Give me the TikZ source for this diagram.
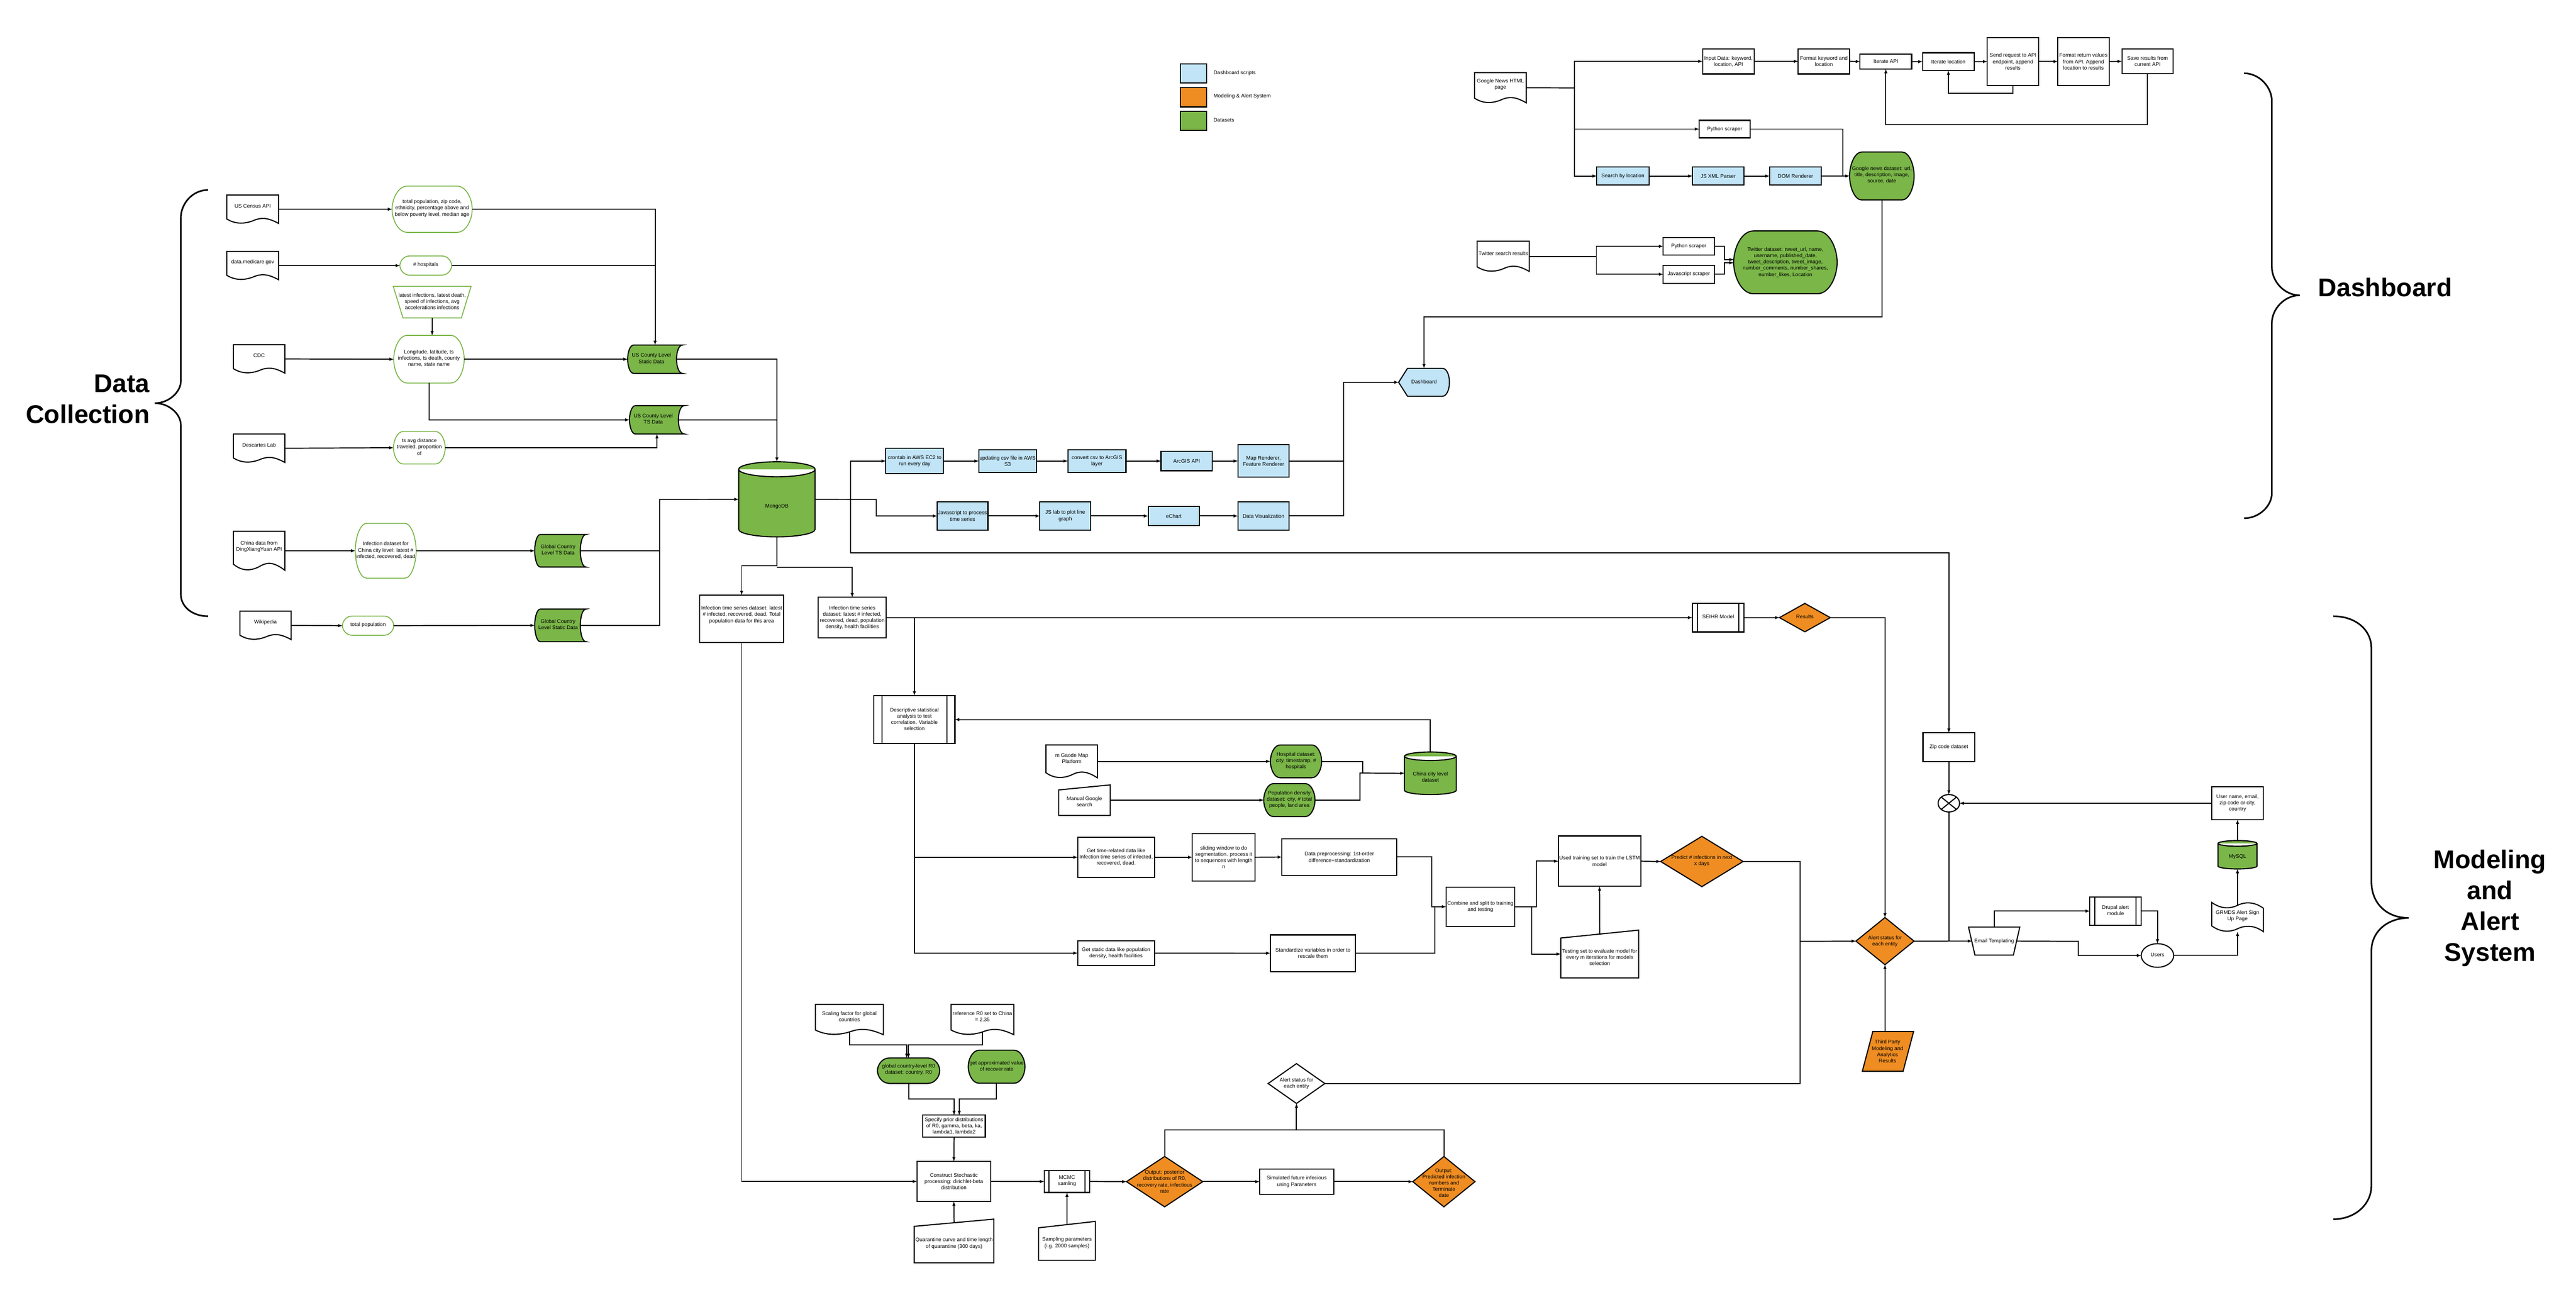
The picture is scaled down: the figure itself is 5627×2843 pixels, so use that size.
\documentclass[tikz,border=0pt]{standalone}
\usepackage{fontspec}
\setmainfont{Liberation Sans}
\begin{document}
\begin{tikzpicture}[x=1pt,y=-1pt]
		\definecolor{bleu}{HTML}{C1E4F7}
		\definecolor{vert}{HTML}{7AB648}
		\definecolor{ambre}{HTML}{EF8D22}
		
		\tikzstyle{lien}=[->,>=latex,line width=2.2pt]
		\tikzstyle{trait}=[line width=2.2pt]
		\tikzstyle{accolade}=[line width=3.5pt]
		\tikzstyle{texte}=[align=center,inner sep=0pt,outer sep=0pt,font=\fontsize{11.4}{13.7}\selectfont]
		\tikzstyle{titre}=[align=center,inner sep=0pt,outer sep=0pt,font=\fontsize{56}{67.5}\selectfont\bfseries]
		\tikzstyle{boite}=[texte,draw,fill=white,line width=2.4pt]
		\tikzstyle{script}=[boite,fill=bleu]
		\tikzstyle{contour}=[draw,fill=white,line width=2.4pt]
		\tikzstyle{donnee}=[contour,fill=vert]
		\tikzstyle{alerte}=[contour,fill=ambre]
		\tikzstyle{tableau}=[contour,fill=bleu]
		\tikzstyle{source}=[draw=vert,fill=white,line width=2pt]
		\tikzset{dim/.style 2 args={minimum width=#1pt,minimum height=#2pt}}
		
		\def\FVague{(-1,-1) -- (1,-1) -- (1,1) .. controls (.55,.55) and (.3,.58) .. (0,.82) .. controls (-.3,1.02) and (-.65,1.08) .. (-1,.69) -- cycle}
		\def\FStock{(1,-1) -- (-.78,-1) .. controls (-.93,-1) and (-1,-.4) .. (-1,0) .. controls (-1,.4) and (-.93,1) .. (-.78,1) -- (1,1) .. controls (.86,1) and (.78,.5) .. (.78,0) .. controls (.78,-.5) and (.86,-1) .. (1,-1) -- cycle}
		\def\FOvale{(-.62,-1) -- (.62,-1) .. controls (.85,-1) and (1,-.45) .. (1,0) .. controls (1,.45) and (.85,1) .. (.62,1) -- (-.62,1) .. controls (-.85,1) and (-1,.45) .. (-1,0) .. controls (-1,-.45) and (-.85,-1) .. (-.62,-1) -- cycle}
		\def\FCyl{(-1,-.8) .. controls (-1,-.91) and (-.55,-1) .. (0,-1) .. controls (.55,-1) and (1,-.91) .. (1,-.8) -- (1,.8) .. controls (1,.91) and (.55,1) .. (0,1) .. controls (-.55,1) and (-1,.91) .. (-1,.8) -- cycle (-1,-.8) .. controls (-1,-.69) and (-.55,-.6) .. (0,-.6) .. controls (.55,-.6) and (1,-.69) .. (1,-.8)}
		\def\FLosange{(0,-1) -- (1,0) -- (0,1) -- (-1,0) -- cycle}
		\def\FSous{(-1,-1) rectangle (1,1) (-.8,-1) -- (-.8,1) (.8,-1) -- (.8,1)}
		\def\FSaisie{(-1,-.67) -- (1,-1) -- (1,1) -- (-1,1) -- cycle}
		\def\FTrap{(-1,-1) -- (1,-1) -- (.75,1) -- (-.75,1) -- cycle}
		\def\FPara{(-.59,-1) -- (1,-1) -- (.59,1) -- (-1,1) -- cycle}
		\def\FRuban{(-1,-1) .. controls (-.65,-.55) and (-.3,-.55) .. (0,-.8) .. controls (.3,-1.05) and (.65,-1.05) .. (1,-.6) -- (1,1) .. controls (.65,.55) and (.3,.55) .. (0,.8) .. controls (-.3,1.05) and (-.65,1.05) .. (-1,.6) -- cycle}
		\def\FHexa{(-1,0) -- (-.65,-1) -- (.72,-1) .. controls (.9,-1) and (1,-.5) .. (1,0) .. controls (1,.5) and (.9,1) .. (.72,1) -- (-.65,1) -- cycle}
		\def\FDisque{(0,0) circle (1)}
		\def\FCroix{(0,0) circle (1) (-.707,-.707) -- (.707,.707) (-.707,.707) -- (.707,-.707)}
		
		\def\Forme#1#2#3#4#5#6#7#8#9{%
			\begin{scope}[shift={(#5,#6)},xscale=#7/2,yscale=#8/2]
				\path[#3] #2;
			\end{scope}
			\node[dim={#7}{#8},inner sep=0pt,outer sep=0pt] (#4) at (#5,#6) {};
			\node[texte,shift={(#1)}] (#4t) at (#5,#6) {#9};
		}
		
		\useasboundingbox (0,0) rectangle (5627,2843);
		
		\draw[accolade] (454.5,415) .. controls (420,415) and (395,445) .. (395,476) -- (395,833) .. controls (395,855) and (370,880.6) .. (338,880.6) .. controls (370,880.6) and (395,905) .. (395,928) -- (395,1298) .. controls (395,1325) and (420,1346) .. (454.5,1346);
		\draw[accolade] (4901.7,160) .. controls (4935,160) and (4962.6,190) .. (4962.6,221) -- (4962.6,583) .. controls (4962.6,615) and (4990,645) .. (5023.6,645) .. controls (4990,645) and (4962.6,675) .. (4962.6,705.6) -- (4962.6,1077) .. controls (4962.6,1105) and (4935,1132) .. (4901.7,1132);
		\draw[accolade] (5097,1346) .. controls (5145,1346) and (5180,1375) .. (5180,1416) -- (5180,1925) .. controls (5180,1975) and (5215,2005) .. (5261.6,2005) .. controls (5215,2005) and (5180,2035) .. (5180,2077) -- (5180,2590) .. controls (5180,2630) and (5145,2663) .. (5097,2663);
		
		\node[titre,align=right,anchor=east] (TitreData) at (327,872) {Data\\Collection};
		\node[titre] (TitreDash) at (5210,628) {Dashboard};
		\node[titre] (TitreAlert) at (5439,1984) {Modeling\\and\\Alert\\System};
		
		\node[script,dim={57}{42}] (LegA) at (2607,160.6) {};
		\node[boite,fill=ambre,dim={57}{42}] (LegB) at (2607,212.5) {};
		\node[boite,fill=vert,dim={57}{42}] (LegC) at (2607,263.6) {};
		\node[texte,anchor=west] (LegAt) at (2651,160) {Dashboard scripts};
		\node[texte,anchor=west] (LegBt) at (2651,210) {Modeling \& Alert System};
		\node[texte,anchor=west] (LegCt) at (2651,262) {Datasets};
		
		\Forme{0,-7}{\FVague}{contour}{Census}{552}{457}{113}{62}{US Census API}
		\Forme{0,-7}{\FVague}{contour}{Medicare}{552}{580}{113}{62}{data.medicare.gov}
		\Forme{0,-7}{\FVague}{contour}{Cdc}{566}{784}{112}{62}{CDC}
		\Forme{0,-7}{\FVague}{contour}{Descartes}{566}{979}{112}{62}{Descartes Lab}
		\Forme{0,-9}{\FVague}{contour}{ChinaApi}{566}{1203}{112}{85}{China data from\\DingXiangYuan API}
		\Forme{0,-7}{\FVague}{contour}{Wiki}{580}{1366}{112}{62}{Wikipedia}
		
		\Forme{0,-2}{\FOvale}{source}{CensusAttr}{944}{457}{175}{101}{total population, zip code,\\ethnicity, percentage above and\\below poverty level, median age}
		\Forme{0,-2}{\FOvale}{source}{Hopitaux}{930}{580}{113}{42}{\# hospitals}
		\Forme{0,-2}{\FTrap}{source}{Latest}{944}{660}{170}{69}{latest infections, latest death,\\speed of infections, avg\\accelerations infections}
		\Forme{0,-2}{\FOvale}{source}{Longi}{937}{784.6}{154}{104}{Longitude, latitude, ts\\infections, ts death, county\\name, state name}
		\Forme{0,-2}{\FOvale}{source}{Distance}{916}{978}{113}{71}{ts avg distance\\traveled, proportion\\of}
		\Forme{0,-1}{\FOvale}{source}{ChinaInf}{842.5}{1203}{133}{120}{Infection dataset for\\China city level: latest \#\\infected, recovered, dead}
		\Forme{0,-2}{\FOvale}{source}{PopTotale}{804}{1366.6}{112}{42}{total population}
		
		\Forme{-8,-2}{\FStock}{donnee}{Statique}{1431}{784.6}{120}{62}{US County Level\\Static Data}
		\Forme{-8,-2}{\FStock}{donnee}{CountyTs}{1435}{917}{120}{62}{US County Level\\TS Data}
		\Forme{-5,-2}{\FStock}{donnee}{GlobalTs}{1224}{1203}{112}{71}{Global Country\\Level TS Data}
		\Forme{-5,-2}{\FStock}{donnee}{GlobalStat}{1224}{1366}{112}{71}{Global Country\\Level Static Data}
		
		\Forme{0,16}{\FCyl}{donnee}{Mongo}{1697}{1090.6}{167}{164}{MongoDB}
		
		\node[script,dim={126}{55}] (Crontab) at (1998,1007) {crontab in AWS EC2 to\\run every day};
		\node[script,dim={126}{50}] (Csv) at (2201,1007) {updating csv file in AWS\\S3};
		\node[script,dim={127}{50}] (Convert) at (2396,1007) {convert csv to ArcGIS\\layer};
		\node[script,dim={112}{42}] (Arcgis) at (2592,1007) {ArcGIS API};
		\node[script,dim={112}{71}] (Renderer) at (2760,1007) {Map Renderer,\\Feature Renderer};
		\node[script,dim={111}{62.5}] (JsTemps) at (2102.5,1127) {Javascript to process\\time series};
		\node[script,dim={111}{62.5}] (JsLab) at (2327,1127) {JS lab to plot line\\graph};
		\node[script,dim={112}{42}] (Echart) at (2564,1127) {eChart};
		\node[script,dim={112}{62.5}] (DataViz) at (2760,1127) {Data Visualization};
		\Forme{0,-1}{\FHexa}{tableau}{Dash}{3110.6}{835}{111}{61}{Dashboard}
		
		\Forme{0,-7}{\FVague}{contour}{News}{3277.5}{191.7}{113}{66}{Google News HTML\\page}
		\node[boite,dim={113}{55}] (Input) at (3775.5,134) {Input Data: keyword,\\location, API};
		\node[boite,dim={112}{55}] (FormatA) at (3984,134) {Format keyword and\\location};
		\node[boite,dim={112.7}{32.5}] (IterApi) at (4119.4,134.5) {Iterate API};
		\node[boite,dim={113}{38.6}] (IterLoc) at (4256,134.7) {Iterate location};
		\node[boite,dim={112}{104}] (Send) at (4397,134.4) {Send request to API\\endpoint, append\\results};
		\node[boite,dim={112}{104}] (FormatB) at (4551,134.4) {Format return values\\from API. Append\\location to results};
		\node[boite,dim={112}{54}] (Save) at (4691,134) {Save results from\\current API};
		\node[boite,dim={112}{38.3}] (PythonA) at (3767.4,281.9) {Python scraper};
		\node[script,dim={114}{40}] (Search) at (3545,384.5) {Search by location};
		\node[script,dim={112}{40}] (Parser) at (3753,384.5) {JS XML Parser};
		\node[script,dim={113}{40}] (Dom) at (3922,384.5) {DOM Renderer};
		\Forme{0,-2}{\FOvale}{donnee}{NewsSet}{4110.7}{384.4}{141}{104.7}{Google news dataset: url,\\title, description, image,\\source, date}
		\Forme{0,-7}{\FVague}{contour}{Twitter}{3283.6}{560}{114}{66}{Twitter search results}
		\node[boite,dim={112}{39}] (PythonB) at (3689,538) {Python scraper};
		\node[boite,dim={112}{39}] (JsScrap) at (3689,599) {Javascript scraper};
		\Forme{0,0}{\FOvale}{donnee}{TwitterSet}{3900}{573}{226}{137}{Twitter dataset: tweet\_url, name,\\username, published\_date,\\tweet\_description, tweet\_image,\\number\_comments, number\_shares,\\number\_likes, Location}
		
		\node[boite,dim={182.6}{103.6}] (InfA) at (1620,1351.5) {Infection time series dataset: latest\\\# infected, recovered, dead. Total\\population data for this area\\[6pt]\mbox{}};
		\node[boite,dim={148}{88.7}] (InfB) at (1861.6,1349) {Infection time series\\dataset: latest \# infected,\\recovered, dead, population\\density, health facilities};
		\Forme{0,-1}{\FSous}{contour}{Descr}{1997.4}{1571.7}{177}{105}{Descriptive statistical\\analysis to test\\correlation. Variable\\selection}
		\Forme{0,-2}{\FSous}{contour}{Seihr}{3753}{1349}{112.7}{62.7}{SEIHR Model}
		\Forme{0,-2}{\FLosange}{alerte}{Results}{3942.5}{1349}{111}{62}{Results}
		
		\Forme{0,-7}{\FVague}{contour}{Gaode}{2341}{1663}{112.5}{72}{m Gaode Map\\Platform}
		\Forme{0,3}{\FSaisie}{contour}{Manuel}{2368.8}{1747.7}{112.5}{66.6}{Manual Google\\search}
		\Forme{0,-1}{\FOvale}{donnee}{HopSet}{2831}{1663}{112}{71.5}{Hospital dataset:\\city, timestamp, \#\\hospitals}
		\Forme{0,-1}{\FOvale}{donnee}{PopSet}{2816.5}{1747.6}{112}{72}{Population density\\dataset: city, \# total\\people, land area}
		\Forme{0,8}{\FCyl}{donnee}{ChinaSet}{3124.5}{1689}{113}{93}{China city level\\dataset}
		
		\node[boite,dim={168}{87.5}] (GetTemps) at (2438,1872.4) {Get time-related data like\\Infection time series of infected,\\recovered, dead.};
		\node[boite,dim={137}{103.6}] (Sliding) at (2673,1872.4) {sliding window to do\\segmentation. process it\\to  sequences with length\\n};
		\node[boite,dim={251}{80}] (Prep) at (2925.6,1872) {Data preprocessing: 1st-order\\difference+standardization};
		\node[boite,dim={168}{54.5}] (GetStat) at (2438,2081.8) {Get static data like population\\density, health facilities};
		\node[boite,dim={186}{80}] (Standard) at (2868,2082) {Standardize variables in order to\\rescale them};
		\node[boite,dim={149.5}{85.7}] (Combine) at (3233.7,1980.4) {Combine and split to training\\and testing};
		\node[boite,dim={180}{110}] (Train) at (3494,1881) {Used training set to train the LSTM\\model};
		\Forme{0,7}{\FSaisie}{contour}{Testing}{3494.4}{2083.8}{170}{104.4}{Testing set to evaluate model for\\every m iterations for models\\selection}
		\Forme{0,-1}{\FLosange}{alerte}{Predict}{3717.5}{1881.7}{180}{110}{Predict \# infections in next\\x days}
		
		\Forme{0,0}{\FLosange}{alerte}{Alert}{4117.5}{2055.6}{127}{103}{Alert status for\\each entity}
		\Forme{-1,0}{\FPara}{alerte}{Third}{4124}{2296.5}{112}{87}{Third Party\\Modeling and\\Analytics\\Results}
		\node[boite,dim={113}{63}] (Zip) at (4257,1632) {Zip code dataset};
		\Forme{0,0}{\FCroix}{contour}{Croix}{4257}{1754.5}{47}{38}{}
		\Forme{0,0}{\FTrap}{contour}{Email}{4356}{2055.5}{112}{61}{Email Templating}
		\Forme{0,-2}{\FSous}{contour}{Drupal}{4621}{1990}{112}{62.3}{Drupal alert\\module}
		\Forme{0,-2}{\FDisque}{contour}{Users}{4712.7}{2087}{71}{51.5}{Users}
		\Forme{0,-2}{\FRuban}{contour}{Grmds}{4887.6}{2003}{113}{64}{GRMDS Alert Sign\\Up Page}
		\Forme{0,5}{\FCyl}{donnee}{MySql}{4887.5}{1867}{85}{62}{MySQL}
		\node[boite,dim={113}{71.5}] (UserInfo) at (4887.6,1754.5) {User name, email,\\zip code or city,\\country};
		
		\Forme{0,-7}{\FVague}{contour}{Scaling}{1855.3}{2227}{148.6}{66}{Scaling factor for global\\countries}
		\Forme{0,-7}{\FVague}{contour}{Refer}{2146}{2227}{137}{66}{reference R0 set to China\\= 2.35}
		\Forme{0,-2}{\FOvale}{donnee}{GlobalR}{1984.7}{2338.6}{136}{55.5}{global country-level R0\\dataset: country, R0}
		\Forme{0,-2}{\FOvale}{donnee}{Recover}{2177}{2330}{124}{72}{get approximated value\\of recover rate}
		\node[boite,dim={136.5}{47.7}] (Specify) at (2084,2459.5) {Specify prior distributions\\of R0, gamma, beta, ka,\\lambda1, lambda2};
		\node[boite,dim={161}{87.5}] (Construct) at (2083.6,2580.5) {Construct Stochastic\\processing: dirichlet-beta\\distribution};
		\Forme{0,-1}{\FSous}{contour}{Mcmc}{2330.7}{2580.7}{99.5}{48}{MCMC\\samling}
		\Forme{0,0}{\FLosange}{alerte}{OutA}{2544}{2581}{166.6}{110}{Output: posterior\\distributions of R0,\\recovery rate, infectious\\rate}
		\node[boite,dim={162}{54.7}] (Simu) at (2832.4,2581) {Simulated future infecious\\using Paraneters};
		\Forme{0,3}{\FLosange}{alerte}{OutB}{3154}{2581}{136}{110}{Output:\\Predicted infection\\numbers and\\Terminate\\date}
		\Forme{0,0}{\FLosange}{contour}{Blanc}{2832}{2366.7}{124}{87}{Alert status for\\each entity}
		\Forme{0,5.5}{\FSaisie}{contour}{Quarant}{2084}{2710.5}{174}{95.3}{Quarantine curve and time length\\of quarantine (300 days)}
		\Forme{0,4.5}{\FSaisie}{contour}{Sampling}{2330.7}{2710.3}{124}{85}{Sampling parameters\\(i.g. 2000 samples)}
		
		\coordinate (BusGlobal) at (1441,1091);
		\coordinate (BusMongo) at (1858,1091);
		\coordinate (CoudeJs) at (1914,1091);
		\coordinate (CoudeZip) at (4257,1207.6);
		\coordinate (BusDash) at (2935,1007);
		\coordinate (CoudeDash) at (3110.6,692);
		\coordinate (SousMongoA) at (1697,1235.7);
		\coordinate (SousMongoB) at (1697,1239);
		\coordinate (BusNews) at (3439,192);
		\coordinate (CoudeIter) at (4397,204);
		\coordinate (CoudeSave) at (4691,272);
		\coordinate (CoudePython) at (4025,384.5);
		\coordinate (BusTwitter) at (3487,560);
		\coordinate (BusHopA) at (2976.8,1688.5);
		\coordinate (BusHopB) at (2970.5,1688.5);
		\coordinate (BusCombA) at (3127.7,1980.4);
		\coordinate (BusCombB) at (3134,1980.4);
		\coordinate (SortieTrain) at (3355.4,1980.4);
		\coordinate (SortieTest) at (3345.6,1980.4);
		\coordinate (BusAlert) at (3931.6,2056);
		\coordinate (CoudeMail) at (4539.6,2056);
		\coordinate (CoudeScaling) at (1980.6,2282.7);
		\coordinate (CoudeRefer) at (1984.4,2282.7);
		\coordinate (CoudeGlobalR) at (2084,2400.8);
		\coordinate (CoudeRecover) at (2095.4,2400.8);
		\coordinate (BusOut) at (2832,2468);
		
		\draw[lien] (Census.east)--(CensusAttr.west);
		\draw[lien] (CensusAttr.east)-|(Statique.north);
		\draw[lien] (Medicare.east)--(Hopitaux.west);
		\draw[trait] (Hopitaux.east)--(Hopitaux.east -| Statique.north);
		\draw[lien] (Latest.south)--(Latest.south |- Longi.north);
		\draw[lien] (Cdc.east)--(Longi.west);
		\draw[lien] (Longi.east)--(Statique.west);
		\draw[lien] (Longi.south)|-(CountyTs.west);
		\draw[lien] (Descartes.east)--(Distance.west);
		\draw[lien] (Distance.east)-|(CountyTs.south);
		\draw[lien] (ChinaApi.east)--(ChinaInf.west);
		\draw[lien] (ChinaInf.east)--(GlobalTs.west);
		\draw[lien] (Wiki.east)--(PopTotale.west);
		\draw[lien] (PopTotale.east)--(GlobalStat.west);
		\draw[trait] ([xshift=-12pt]GlobalTs.east)--(GlobalTs.east -| BusGlobal);
		\draw[lien] ([xshift=-12pt]GlobalStat.east)-|(BusGlobal)--(Mongo.west);
		\draw[lien] ([xshift=-13pt]Statique.east)-|(Mongo.north);
		\draw[trait] ([xshift=-13pt]CountyTs.east)--(CountyTs.east -| Mongo.north);
		
		\draw[lien] (Mongo.east)--(CoudeJs)|-(JsTemps.west);
		\draw[lien] (BusMongo)|-(Crontab.west);
		\draw[lien] (BusMongo)|-(CoudeZip)--(Zip.north);
		\draw[lien] (Crontab.east)--(Csv.west);
		\draw[lien] (Csv.east)--(Convert.west);
		\draw[lien] (Convert.east)--(Arcgis.west);
		\draw[lien] (Arcgis.east)--(Renderer.west);
		\draw[lien] (JsTemps.east)--(JsLab.west);
		\draw[lien] (JsLab.east)--(Echart.west);
		\draw[lien] (Echart.east)--(DataViz.west);
		\draw[trait] (Renderer.east)--(BusDash);
		\draw[lien] (DataViz.east)-|(BusDash)|-(Dash.west);
		\draw[lien] (NewsSet.south)|-(CoudeDash)--(Dash.north);
		
		\draw[trait] (News.east)--(BusNews);
		\draw[lien] (BusNews)|-(Input.west);
		\draw[lien] (BusNews)|-(PythonA.west);
		\draw[lien] (BusNews)|-(Search.west);
		\draw[lien] (Input.east)--(FormatA.west);
		\draw[lien] (FormatA.east)--(IterApi.west);
		\draw[lien] (IterApi.east)--(IterLoc.west);
		\draw[lien] (IterLoc.east)--(Send.west);
		\draw[lien] (Send.east)--(FormatB.west);
		\draw[lien] (FormatB.east)--(Save.west);
		\draw[lien] (Send.south)--(CoudeIter)-|(IterLoc.south);
		\draw[lien] (Save.south)--(CoudeSave)-|(IterApi.south);
		\draw[trait] (PythonA.east)-|(CoudePython);
		\draw[lien] (Search.east)--(Parser.west);
		\draw[lien] (Parser.east)--(Dom.west);
		\draw[lien] (Dom.east)--(NewsSet.west);
		\draw[trait] (Twitter.east)--(BusTwitter);
		\draw[lien] (BusTwitter)|-(PythonB.west);
		\draw[lien] (BusTwitter)|-(JsScrap.west);
		\draw[lien] (PythonB.east)--++(21.8,0)|-([yshift=6pt]TwitterSet.west);
		\draw[lien] (JsScrap.east)--++(21.8,0)|-([yshift=-1pt]TwitterSet.west);
		
		\draw[lien] (Mongo.south)--(SousMongoA)-|(InfA.north);
		\draw[lien] (SousMongoB)-|(InfB.north);
		\draw[lien] (InfA.south)|-(Construct.west);
		\draw[lien] (InfB.east)--(Seihr.west);
		\draw[lien] (Seihr.east)--(Results.west);
		\draw[lien] (Results.east)-|(Alert.north);
		\draw[lien] (InfB.east -| Descr.north)--(Descr.north);
		\draw[lien] (Descr.south)|-(GetStat.west);
		\draw[lien] (Descr.south |- GetTemps.west)--(GetTemps.west);
		\draw[lien] (ChinaSet.north)|-(Descr.east);
		\draw[lien] (Gaode.east)--(HopSet.west);
		\draw[lien] (Manuel.east)--(PopSet.west);
		\draw[trait] (HopSet.east)-|(BusHopA);
		\draw[lien] (PopSet.east)-|(BusHopB)--(ChinaSet.west);
		
		\draw[lien] (GetTemps.east)--(Sliding.west);
		\draw[lien] (Sliding.east)--(Prep.west);
		\draw[lien] (GetStat.east)--(Standard.west);
		\draw[lien] (Prep.east)-|(BusCombA)--(Combine.west);
		\draw[trait] (Standard.east)-|(BusCombB);
		\draw[lien] (Combine.east)--(SortieTrain)|-(Train.west);
		\draw[lien] (SortieTest)|-(Testing.west);
		\draw[lien] ([yshift=-8pt]Testing.north)--(Train.south);
		\draw[lien] (Train.east)--(Predict.west);
		\draw[trait] (Predict.east)-|(BusAlert);
		\draw[trait] (Blanc.east)-|(BusAlert);
		\draw[lien] (BusAlert)--(Alert.west);
		\draw[lien] (Alert.south |- Third.north)--(Alert.south);
		
		\draw[lien] (Alert.east)--([xshift=8pt]Email.west);
		\draw[lien] (Zip.south)--(Croix.north);
		\draw[trait] (Croix.south)--(Croix.south |- Alert.east);
		\draw[lien] (UserInfo.west)--(Croix.east);
		\draw[lien] (Email.north)|-(Drupal.west);
		\draw[lien] (Drupal.east)-|(Users.north);
		\draw[lien] ([xshift=-8pt]Email.east)--(CoudeMail)|-(Users.west);
		\draw[lien] (Users.east)-|(Grmds.south);
		\draw[lien] ([yshift=-7pt]Grmds.north)--(MySql.south);
		\draw[lien] (MySql.north)--(UserInfo.south);
		
		\draw[lien] ([yshift=6pt]Scaling.south)|-(CoudeScaling)--(CoudeScaling |- GlobalR.north);
		\draw[lien] ([yshift=6pt]Refer.south)|-(CoudeRefer)--(CoudeRefer |- GlobalR.north);
		\draw[lien] (GlobalR.south)|-(CoudeGlobalR)--(CoudeGlobalR |- Specify.north);
		\draw[lien] (Recover.south)|-(CoudeRecover)--(CoudeRecover |- Specify.north);
		\draw[lien] (Specify.south)--(Construct.north);
		\draw[lien] (Construct.east)--(Mcmc.west);
		\draw[lien] (Mcmc.east)--(OutA.west);
		\draw[lien] (OutA.east)--(Simu.west);
		\draw[lien] (Simu.east)--(OutB.west);
		\draw[trait] (OutA.north)|-(BusOut);
		\draw[trait] (OutB.north)|-(BusOut);
		\draw[lien] (BusOut)--(Blanc.south);
		\draw[lien] ([yshift=-8pt]Quarant.north)--(Construct.south);
		\draw[lien] ([yshift=-7pt]Sampling.north)--(Mcmc.south);
\end{tikzpicture}
\end{document}
